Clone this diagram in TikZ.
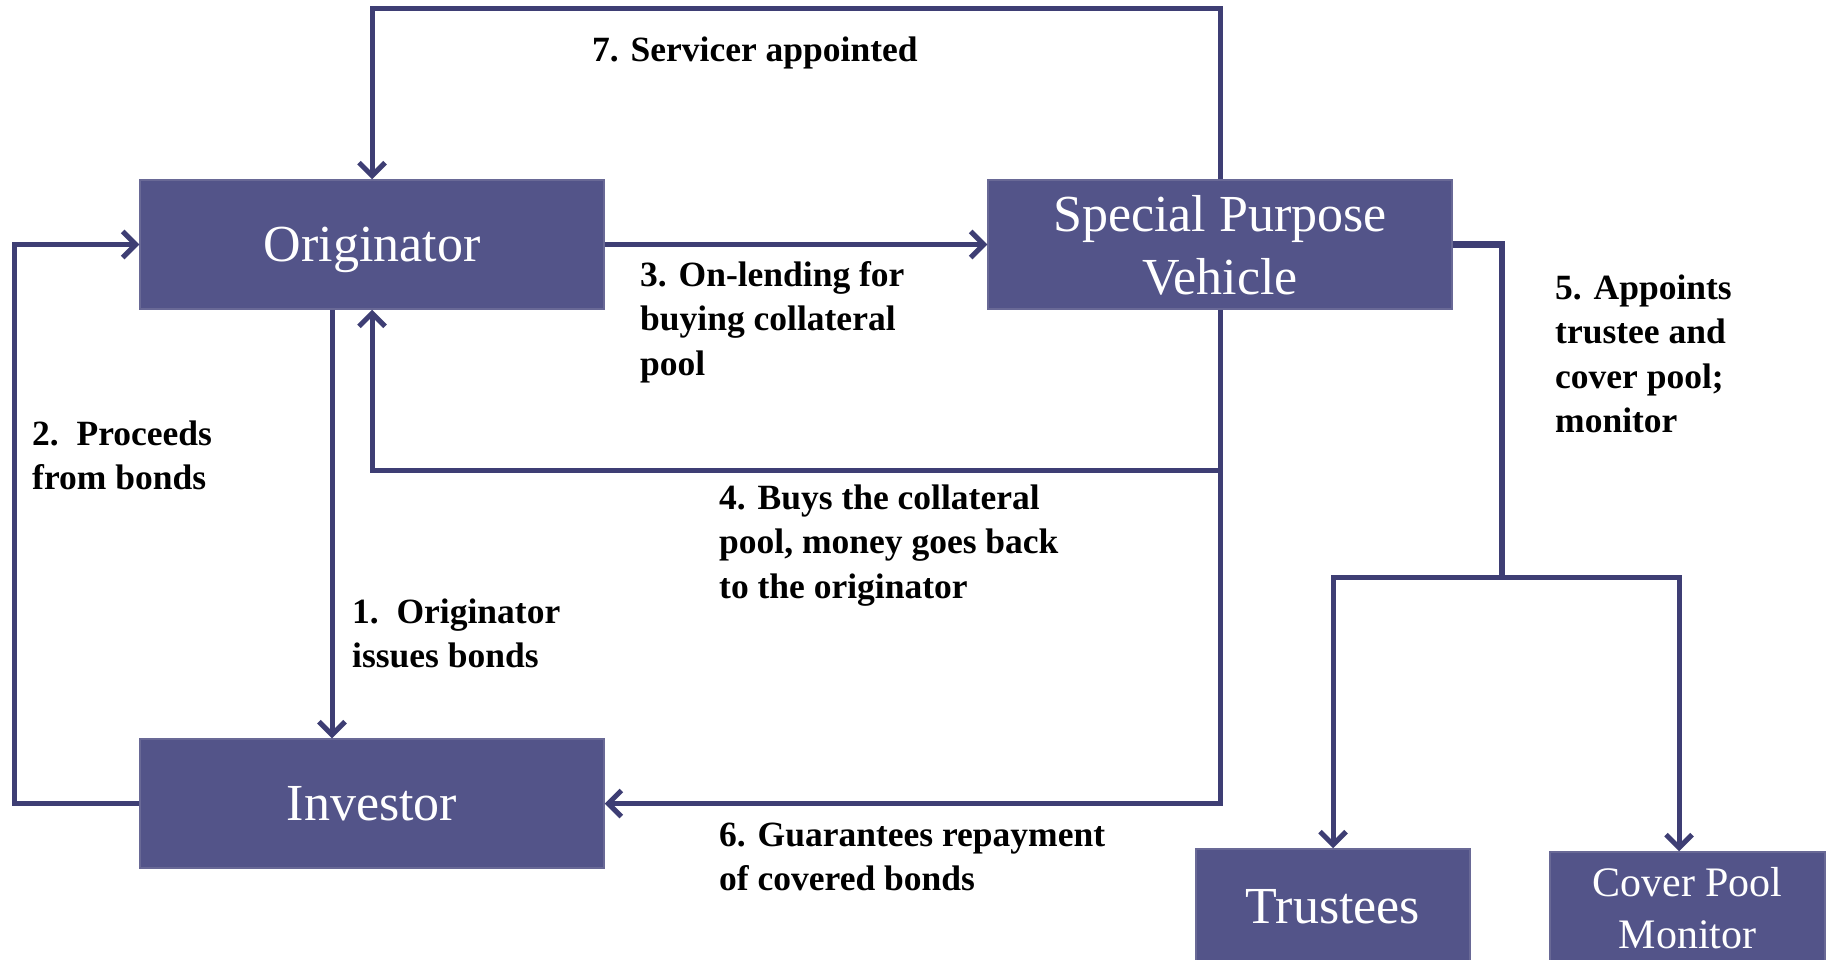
\documentclass[tikz,border=0pt]{standalone}
\usepackage{fontspec}
\setmainfont{Liberation Serif}
\usetikzlibrary{arrows.meta,calc}
\definecolor{linecol}{RGB}{62,62,116}
\definecolor{boxfill}{RGB}{83,84,137}
\definecolor{boxline}{RGB}{105,105,150}
\begin{document}
\begin{tikzpicture}[x=1pt,y=-1pt,
 box/.style={fill=boxfill,draw=boxline,line width=1.5pt,text=white,inner sep=0pt,align=center,text depth=0pt},
 bigfont/.style={font=\fontsize{52}{63}\selectfont},
 mainbox/.style={box,bigfont,minimum width=464pt,minimum height=129pt},
 lbl/.style={anchor=base west,align=left,inner sep=0pt,font=\bfseries\fontsize{35.5}{44.5}\selectfont,text=black},
 conn/.style={draw=linecol,line width=5pt},
 arr/.style={conn,-{Straight Barb[length=13pt,width=26pt]}}]
\useasboundingbox (0,0) rectangle (1827,960);
\fill[white] (0,0) rectangle (1827,960);
% boxes
\node[mainbox] (orig) at (372,244.5) {Originator};
\node[mainbox] (spv) at (1220,244.5) {Special Purpose\\Vehicle};
\node[mainbox] (inv) at (372,803.5) {Investor};
\node[box,bigfont,minimum width=274pt,minimum height=115pt] (trus) at (1333,906.5) {Trustees};
\node[box,font=\fontsize{42}{52}\selectfont,minimum width=275pt,minimum height=112pt] (cpm) at (1687.5,908) {Cover Pool\\Monitor};
% connectors
\coordinate (t7) at (372,9);
\draw[arr] (spv.north) |- (t7) -- (orig.north);
\draw[arr] (orig.east) -- (spv.west);
\coordinate (m4) at (1220,470);
\draw[arr] (spv.south) -- (m4) -| (orig.south);
\draw[arr] (m4) |- (inv.east);
\coordinate (c1) at (332,0);
\draw[arr] (orig.south -| c1) -- (inv.north -| c1);
\coordinate (l2) at (14,0);
\draw[arr] (inv.west) -- (inv.west -| l2) |- (orig.west);
\coordinate (b5) at (1502,577);
\draw[conn,line width=6.5pt] (spv.east) -| (b5);
\draw[arr] (b5) -| (trus.north);
\coordinate (c5) at (1679,0);
\draw[arr] (b5) -| (cpm.north -| c5);
% labels (anchor = baseline of last line)
\node[lbl] (lab7) at (592,62) {7. Servicer appointed};
\node[lbl] (lab3) at (640,375) {3. On-lending for\\buying collateral\\pool};
\node[lbl] (lab2) at (32,489.5) {2.\ \ Proceeds\\from bonds};
\node[lbl] (lab1) at (352,667.5) {1.\ \ Originator\\issues bonds};
\node[lbl] (lab4) at (719,598) {4. Buys the collateral\\pool, money goes back\\to the originator};
\node[lbl] (lab6) at (719,890.5) {6. Guarantees repayment\\of covered bonds};
\node[lbl] (lab5) at (1555,432.5) {5. Appoints\\trustee and\\cover pool;\\monitor};
\end{tikzpicture}
\end{document}
